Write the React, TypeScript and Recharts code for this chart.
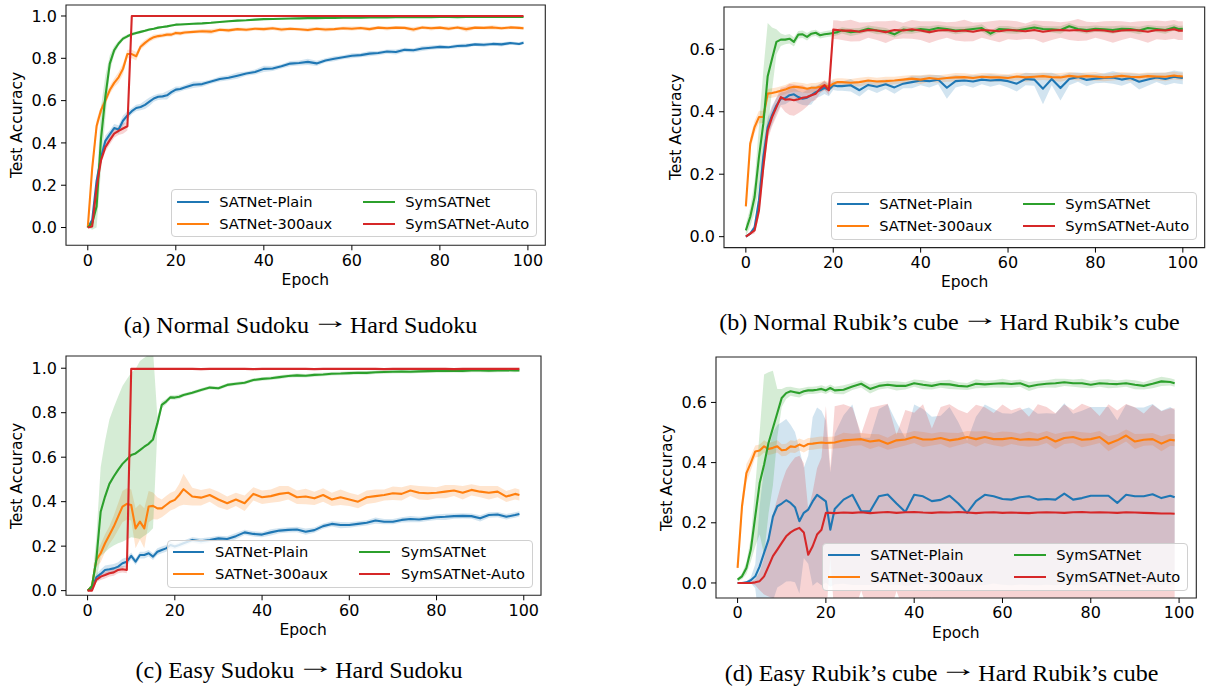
import React from 'react';
import { ComposedChart, Line, Area, XAxis, YAxis, ReferenceArea, Legend } from 'recharts';

// ---------- categories ----------
const SERIES_NAMES = ['SATNet-Plain', 'SATNet-300aux', 'SymSATNet', 'SymSATNet-Auto'];
const SERIES_COLORS = ['#1f77b4', '#ff7f0e', '#2ca02c', '#d62728'];
const X_TICKS = [0, 20, 40, 60, 80, 100];
const Y_TICKS_FULL = [0, 0.2, 0.4, 0.6, 0.8, 1.0];
const Y_TICKS_RUBIK = [0, 0.2, 0.4, 0.6];

const EPOCHS = [
  0, 1, 2, 3, 4, 5, 6, 7, 8, 9, 10, 11, 12, 13, 14, 15, 16, 17, 18, 19, 20, 21,
  22, 24, 26, 28, 30, 32, 34, 36, 38, 40, 42, 44, 46, 48, 50, 52, 54, 56, 58, 60,
  62, 64, 66, 68, 70, 72, 74, 76, 78, 80, 82, 84, 86, 88, 90, 92, 94, 96, 98,
  99,
];
const EPOCHS_B = [...EPOCHS, 100];

// ---------- (a) Normal Sudoku -> Hard Sudoku ----------
const A_PLAIN = [
  0, 0.035, 0.22, 0.33, 0.41, 0.44, 0.47, 0.463, 0.505, 0.53, 0.55, 0.565, 0.57, 0.58, 0.595, 0.61, 0.618, 0.62, 0.625, 0.64, 0.652, 0.655,
  0.662, 0.675, 0.678, 0.69, 0.702, 0.708, 0.718, 0.728, 0.735, 0.75, 0.752, 0.762, 0.775, 0.778, 0.783, 0.776, 0.79, 0.798, 0.805, 0.812,
  0.815, 0.822, 0.825, 0.832, 0.83, 0.84, 0.838, 0.846, 0.85, 0.854, 0.852, 0.858, 0.86, 0.866, 0.864, 0.868, 0.866, 0.872, 0.868,
  0.874,
];
const A_PLAIN_SD = [
  0, 0.01, 0.03, 0.03, 0.025, 0.02, 0.02, 0.02, 0.025, 0.02, 0.015, 0.015, 0.015, 0.02, 0.02, 0.015, 0.015, 0.015, 0.02, 0.015, 0.015, 0.012,
  0.012, 0.015, 0.012, 0.01, 0.012, 0.012, 0.015, 0.01, 0.012, 0.015, 0.012, 0.01, 0.012, 0.012, 0.015, 0.012, 0.01, 0.012, 0.01, 0.012,
  0.01, 0.012, 0.01, 0.01, 0.012, 0.01, 0.01, 0.012, 0.01, 0.01, 0.008, 0.01, 0.01, 0.008, 0.01, 0.008, 0.01, 0.008, 0.008,
  0.008,
];
const A_AUX = [
  0, 0.28, 0.48, 0.555, 0.6, 0.65, 0.684, 0.71, 0.75, 0.82, 0.82, 0.81, 0.855, 0.873, 0.889, 0.9, 0.905, 0.908, 0.912, 0.912, 0.92, 0.918,
  0.922, 0.925, 0.928, 0.926, 0.935, 0.932, 0.938, 0.935, 0.94, 0.938, 0.942, 0.936, 0.94, 0.937, 0.934, 0.94, 0.936, 0.938, 0.942, 0.94,
  0.943, 0.938, 0.945, 0.942, 0.945, 0.944, 0.936, 0.946, 0.942, 0.945, 0.94, 0.946, 0.938, 0.945, 0.944, 0.946, 0.942, 0.946, 0.944,
  0.942,
];
const A_AUX_SD = [
  0, 0.03, 0.03, 0.02, 0.02, 0.02, 0.02, 0.025, 0.025, 0.02, 0.02, 0.02, 0.015, 0.015, 0.012, 0.012, 0.01, 0.01, 0.01, 0.01, 0.01, 0.01,
  0.01, 0.008, 0.01, 0.012, 0.008, 0.01, 0.008, 0.01, 0.008, 0.01, 0.008, 0.01, 0.008, 0.008, 0.01, 0.008, 0.01, 0.008, 0.008, 0.01,
  0.008, 0.01, 0.008, 0.01, 0.008, 0.008, 0.012, 0.008, 0.01, 0.008, 0.01, 0.008, 0.012, 0.008, 0.008, 0.01, 0.008, 0.008, 0.008,
  0.008,
];
const A_SYM = [
  0, 0.02, 0.1, 0.42, 0.62, 0.775, 0.838, 0.87, 0.893, 0.904, 0.914, 0.92, 0.925, 0.93, 0.936, 0.94, 0.945, 0.948, 0.951, 0.955, 0.959, 0.96,
  0.961, 0.963, 0.965, 0.968, 0.972, 0.975, 0.978, 0.98, 0.983, 0.985, 0.986, 0.987, 0.988, 0.989, 0.99, 0.99, 0.991, 0.991, 0.992, 0.992,
  0.992, 0.993, 0.993, 0.993, 0.994, 0.994, 0.994, 0.995, 0.994, 0.995, 0.995, 0.994, 0.995, 0.995, 0.995, 0.996, 0.995, 0.996, 0.995,
  0.995,
];
const A_SYM_SD = [
  0, 0.03, 0.1, 0.15, 0.1, 0.04, 0.02, 0.012, 0.01, 0.008, 0.008, 0.007, 0.006, 0.006, 0.006, 0.005, 0.005, 0.005, 0.005, 0.005, 0.005, 0.005,
  0.005, 0.005, 0.004, 0.005, 0.004, 0.004, 0.005, 0.004, 0.004, 0.004, 0.004, 0.004, 0.003, 0.004, 0.003, 0.004, 0.003, 0.003, 0.003, 0.003,
  0.003, 0.003, 0.003, 0.003, 0.003, 0.003, 0.003, 0.003, 0.003, 0.003, 0.003, 0.003, 0.003, 0.003, 0.003, 0.003, 0.003, 0.003, 0.003,
  0.003,
];
const A_AUTO = [
  0, 0.005, 0.19, 0.318, 0.38, 0.413, 0.444, 0.457, 0.468, 0.479, 1, 1, 1, 1, 1, 1, 1, 1, 1, 1, 1, 1,
  1, 1, 1, 1, 1, 1, 1, 1, 1, 1, 1, 1, 1, 1, 1, 1, 1, 1, 1, 1,
  1, 1, 1, 1, 1, 1, 1, 1, 1, 1, 1, 1, 1, 1, 1, 1, 1, 1, 1,
  1,
];
const A_AUTO_SD = [
  0, 0.005, 0.03, 0.02, 0.02, 0.02, 0.02, 0.02, 0.025, 0.02, 0.001, 0.001, 0.001, 0.001, 0.001, 0.001, 0.001, 0.001, 0.001, 0.001, 0.001, 0.001,
  0.001, 0.001, 0.001, 0.001, 0.001, 0.001, 0.001, 0.001, 0.001, 0.001, 0.001, 0.001, 0.001, 0.001, 0.001, 0.001, 0.001, 0.001, 0.001, 0.001,
  0.001, 0.001, 0.001, 0.001, 0.001, 0.001, 0.001, 0.001, 0.001, 0.001, 0.001, 0.001, 0.001, 0.001, 0.001, 0.001, 0.001, 0.001, 0.001,
  0.001,
];

// ---------- (b) Normal Rubik's cube -> Hard Rubik's cube ----------
const B_PLAIN = [
  0, 0.01, 0.03, 0.116, 0.255, 0.351, 0.389, 0.42, 0.442, 0.444, 0.453, 0.456, 0.447, 0.442, 0.445, 0.453, 0.463, 0.469, 0.477, 0.47, 0.485, 0.482,
  0.482, 0.485, 0.469, 0.486, 0.48, 0.488, 0.478, 0.49, 0.495, 0.5, 0.498, 0.503, 0.477, 0.498, 0.5, 0.497, 0.503, 0.5, 0.502, 0.498,
  0.49, 0.505, 0.503, 0.474, 0.505, 0.476, 0.505, 0.511, 0.502, 0.506, 0.508, 0.51, 0.503, 0.508, 0.496, 0.503, 0.51, 0.505, 0.512,
  0.51, 0.508,
];
const B_PLAIN_SD = [
  0, 0.005, 0.01, 0.03, 0.04, 0.03, 0.03, 0.025, 0.02, 0.02, 0.02, 0.02, 0.02, 0.02, 0.025, 0.03, 0.02, 0.02, 0.02, 0.02, 0.015, 0.015,
  0.015, 0.02, 0.02, 0.015, 0.02, 0.015, 0.02, 0.015, 0.02, 0.015, 0.02, 0.015, 0.035, 0.02, 0.015, 0.02, 0.015, 0.02, 0.015, 0.02,
  0.025, 0.02, 0.02, 0.05, 0.02, 0.04, 0.02, 0.015, 0.02, 0.015, 0.015, 0.02, 0.02, 0.015, 0.025, 0.02, 0.015, 0.02, 0.02,
  0.02, 0.02,
];
const B_AUX = [
  0.097, 0.298, 0.351, 0.383, 0.383, 0.458, 0.46, 0.463, 0.467, 0.471, 0.477, 0.48, 0.479, 0.477, 0.474, 0.477, 0.477, 0.48, 0.485, 0.48, 0.49, 0.495,
  0.495, 0.493, 0.495, 0.5, 0.497, 0.498, 0.5, 0.503, 0.506, 0.503, 0.508, 0.505, 0.508, 0.51, 0.511, 0.508, 0.512, 0.51, 0.51, 0.508,
  0.513, 0.51, 0.512, 0.514, 0.511, 0.51, 0.515, 0.512, 0.514, 0.513, 0.51, 0.512, 0.515, 0.512, 0.511, 0.514, 0.513, 0.512, 0.516,
  0.514, 0.513,
];
const B_AUX_SD = [
  0.01, 0.02, 0.02, 0.02, 0.02, 0.015, 0.015, 0.015, 0.015, 0.015, 0.015, 0.015, 0.015, 0.015, 0.015, 0.015, 0.015, 0.015, 0.015, 0.015, 0.015, 0.012,
  0.012, 0.012, 0.014, 0.012, 0.012, 0.014, 0.012, 0.012, 0.012, 0.014, 0.012, 0.012, 0.012, 0.014, 0.012, 0.012, 0.012, 0.014, 0.012, 0.012,
  0.012, 0.014, 0.012, 0.012, 0.012, 0.014, 0.012, 0.012, 0.012, 0.014, 0.012, 0.012, 0.012, 0.014, 0.012, 0.012, 0.012, 0.014, 0.012,
  0.012, 0.012,
];
const B_SYM = [
  0.02, 0.063, 0.127, 0.255, 0.362, 0.514, 0.57, 0.624, 0.631, 0.631, 0.634, 0.624, 0.647, 0.648, 0.64, 0.65, 0.653, 0.645, 0.648, 0.65, 0.652, 0.655,
  0.661, 0.655, 0.658, 0.666, 0.66, 0.658, 0.648, 0.663, 0.66, 0.665, 0.662, 0.668, 0.665, 0.66, 0.662, 0.665, 0.668, 0.65, 0.665, 0.663,
  0.66, 0.665, 0.67, 0.665, 0.664, 0.662, 0.674, 0.665, 0.662, 0.666, 0.664, 0.662, 0.666, 0.665, 0.66, 0.668, 0.665, 0.662, 0.67,
  0.665, 0.666,
];
const B_SYM_SD = [
  0.02, 0.03, 0.05, 0.1, 0.17, 0.17, 0.1, 0.04, 0.02, 0.015, 0.015, 0.015, 0.012, 0.012, 0.012, 0.01, 0.01, 0.01, 0.01, 0.01, 0.01, 0.01,
  0.01, 0.012, 0.01, 0.01, 0.012, 0.01, 0.01, 0.012, 0.01, 0.01, 0.012, 0.01, 0.01, 0.012, 0.01, 0.01, 0.012, 0.01, 0.01, 0.012,
  0.01, 0.01, 0.012, 0.01, 0.01, 0.012, 0.01, 0.01, 0.012, 0.01, 0.01, 0.012, 0.01, 0.01, 0.012, 0.01, 0.01, 0.012, 0.01,
  0.01, 0.01,
];
const B_AUTO = [
  0, 0.01, 0.02, 0.084, 0.223, 0.34, 0.383, 0.415, 0.447, 0.439, 0.44, 0.437, 0.44, 0.445, 0.447, 0.453, 0.458, 0.474, 0.485, 0.469, 0.663, 0.662,
  0.66, 0.66, 0.656, 0.662, 0.66, 0.655, 0.662, 0.66, 0.664, 0.66, 0.655, 0.66, 0.662, 0.658, 0.66, 0.656, 0.662, 0.66, 0.658, 0.662,
  0.66, 0.658, 0.662, 0.656, 0.66, 0.662, 0.66, 0.662, 0.658, 0.662, 0.66, 0.656, 0.66, 0.662, 0.66, 0.656, 0.662, 0.66, 0.664,
  0.66, 0.66,
];
const B_AUTO_SD = [
  0, 0.005, 0.01, 0.02, 0.03, 0.03, 0.03, 0.03, 0.03, 0.04, 0.05, 0.05, 0.045, 0.04, 0.03, 0.02, 0.02, 0.015, 0.015, 0.015, 0.03, 0.03,
  0.03, 0.035, 0.03, 0.025, 0.03, 0.035, 0.03, 0.025, 0.03, 0.03, 0.035, 0.03, 0.025, 0.03, 0.035, 0.03, 0.025, 0.03, 0.035, 0.03,
  0.03, 0.025, 0.03, 0.035, 0.03, 0.025, 0.03, 0.035, 0.03, 0.025, 0.03, 0.035, 0.03, 0.025, 0.03, 0.035, 0.03, 0.03, 0.03,
  0.03, 0.03,
];

// ---------- (c) Easy Sudoku -> Hard Sudoku ----------
const C_PLAIN = [
  0, 0.01, 0.06, 0.075, 0.093, 0.096, 0.1, 0.108, 0.123, 0.13, 0.156, 0.13, 0.16, 0.16, 0.168, 0.153, 0.175, 0.183, 0.19, 0.205, 0.198, 0.205,
  0.213, 0.228, 0.222, 0.228, 0.235, 0.232, 0.245, 0.262, 0.255, 0.252, 0.262, 0.27, 0.273, 0.275, 0.265, 0.272, 0.29, 0.3, 0.295, 0.295,
  0.3, 0.305, 0.315, 0.31, 0.31, 0.318, 0.322, 0.32, 0.325, 0.33, 0.332, 0.335, 0.336, 0.335, 0.325, 0.34, 0.342, 0.332, 0.34,
  0.345,
];
const C_PLAIN_SD = [
  0, 0.005, 0.015, 0.02, 0.02, 0.02, 0.02, 0.02, 0.02, 0.02, 0.015, 0.015, 0.015, 0.015, 0.015, 0.015, 0.015, 0.015, 0.015, 0.015, 0.012, 0.012,
  0.012, 0.012, 0.014, 0.012, 0.012, 0.012, 0.014, 0.012, 0.012, 0.012, 0.014, 0.012, 0.012, 0.012, 0.014, 0.012, 0.012, 0.012, 0.014, 0.012,
  0.012, 0.012, 0.014, 0.012, 0.012, 0.012, 0.014, 0.012, 0.012, 0.012, 0.014, 0.012, 0.012, 0.012, 0.014, 0.012, 0.012, 0.012, 0.012,
  0.012,
];
const C_AUX = [
  0, 0.02, 0.138, 0.168, 0.213, 0.25, 0.288, 0.333, 0.378, 0.39, 0.385, 0.28, 0.31, 0.28, 0.378, 0.381, 0.37, 0.37, 0.385, 0.4, 0.408, 0.43,
  0.456, 0.423, 0.418, 0.43, 0.41, 0.393, 0.41, 0.393, 0.435, 0.42, 0.425, 0.435, 0.44, 0.42, 0.423, 0.415, 0.43, 0.41, 0.42, 0.41,
  0.4, 0.42, 0.425, 0.43, 0.438, 0.435, 0.45, 0.44, 0.438, 0.44, 0.445, 0.45, 0.44, 0.453, 0.445, 0.44, 0.445, 0.423, 0.435,
  0.43,
];
const C_AUX_SD = [
  0, 0.01, 0.03, 0.04, 0.04, 0.04, 0.05, 0.06, 0.07, 0.07, 0.07, 0.09, 0.08, 0.09, 0.07, 0.06, 0.05, 0.04, 0.04, 0.04, 0.04, 0.05,
  0.07, 0.04, 0.035, 0.03, 0.035, 0.03, 0.03, 0.035, 0.03, 0.03, 0.03, 0.035, 0.03, 0.03, 0.035, 0.03, 0.03, 0.03, 0.035, 0.03,
  0.03, 0.03, 0.03, 0.025, 0.03, 0.03, 0.025, 0.03, 0.03, 0.025, 0.03, 0.025, 0.03, 0.025, 0.025, 0.03, 0.025, 0.025, 0.025,
  0.025,
];
const C_SYM = [
  0, 0.02, 0.138, 0.355, 0.423, 0.48, 0.513, 0.543, 0.57, 0.59, 0.61, 0.617, 0.632, 0.647, 0.66, 0.68, 0.752, 0.835, 0.85, 0.869, 0.868, 0.872,
  0.88, 0.89, 0.902, 0.913, 0.91, 0.925, 0.93, 0.935, 0.947, 0.952, 0.955, 0.96, 0.965, 0.968, 0.966, 0.97, 0.972, 0.975, 0.976, 0.978,
  0.98, 0.979, 0.982, 0.983, 0.984, 0.985, 0.984, 0.986, 0.987, 0.988, 0.988, 0.989, 0.988, 0.99, 0.99, 0.989, 0.99, 0.991, 0.99,
  0.99,
];
const C_SYM_SD = [
  0, 0.02, 0.1, 0.2, 0.25, 0.29, 0.31, 0.33, 0.35, 0.36, 0.37, 0.38, 0.4, 0.4, 0.4, 0.4, 0.03, 0.015, 0.012, 0.01, 0.01, 0.01,
  0.008, 0.008, 0.008, 0.008, 0.008, 0.008, 0.008, 0.008, 0.008, 0.008, 0.008, 0.008, 0.008, 0.008, 0.008, 0.008, 0.008, 0.008, 0.008, 0.008,
  0.008, 0.008, 0.008, 0.008, 0.008, 0.008, 0.008, 0.008, 0.008, 0.008, 0.008, 0.008, 0.008, 0.008, 0.008, 0.008, 0.008, 0.008, 0.008,
  0.006,
];
const C_AUTO = [
  0, 0, 0.048, 0.063, 0.07, 0.078, 0.082, 0.093, 0.096, 0.093, 0.997, 0.997, 0.997, 0.997, 0.997, 0.997, 0.997, 0.997, 0.997, 0.997, 0.997, 0.997,
  0.997, 0.997, 0.996, 0.997, 0.997, 0.998, 0.997, 0.997, 0.996, 0.997, 0.997, 0.997, 0.998, 0.997, 0.997, 0.996, 0.997, 0.997, 0.997, 0.998,
  0.997, 0.997, 0.997, 0.996, 0.997, 0.997, 0.998, 0.997, 0.997, 0.997, 0.997, 0.996, 0.997, 0.997, 0.998, 0.997, 0.997, 0.997, 0.998,
  0.997,
];
const C_AUTO_SD = [
  0, 0.003, 0.01, 0.015, 0.015, 0.015, 0.015, 0.015, 0.015, 0.015, 0.002, 0.002, 0.002, 0.002, 0.002, 0.002, 0.002, 0.002, 0.002, 0.002, 0.002, 0.002,
  0.002, 0.002, 0.002, 0.002, 0.002, 0.002, 0.002, 0.002, 0.002, 0.002, 0.002, 0.002, 0.002, 0.002, 0.002, 0.002, 0.002, 0.002, 0.002, 0.002,
  0.002, 0.002, 0.002, 0.002, 0.002, 0.002, 0.002, 0.002, 0.002, 0.002, 0.002, 0.002, 0.002, 0.002, 0.002, 0.002, 0.002, 0.002, 0.002,
  0.002,
];

// ---------- (d) Easy Rubik's cube -> Hard Rubik's cube ----------
const D_PLAIN = [
  0, 0, 0.002, 0.009, 0.022, 0.055, 0.1, 0.144, 0.22, 0.255, 0.264, 0.275, 0.266, 0.252, 0.205, 0.233, 0.244, 0.271, 0.293, 0.282, 0.271, 0.177,
  0.246, 0.277, 0.293, 0.238, 0.238, 0.288, 0.294, 0.264, 0.236, 0.293, 0.288, 0.272, 0.276, 0.29, 0.264, 0.233, 0.272, 0.293, 0.288, 0.279,
  0.277, 0.285, 0.288, 0.277, 0.279, 0.277, 0.297, 0.277, 0.282, 0.29, 0.29, 0.29, 0.266, 0.293, 0.288, 0.288, 0.295, 0.282, 0.29,
  0.285,
];
const D_PLAIN_SD = [
  0.002, 0.002, 0.003, 0.01, 0.04, 0.2, 0.28, 0.3, 0.28, 0.27, 0.27, 0.27, 0.26, 0.25, 0.24, 0.15, 0.18, 0.28, 0.29, 0.29, 0.27, 0.19,
  0.25, 0.28, 0.3, 0.245, 0.245, 0.29, 0.3, 0.27, 0.245, 0.3, 0.29, 0.28, 0.28, 0.295, 0.27, 0.24, 0.28, 0.3, 0.29, 0.285,
  0.285, 0.29, 0.295, 0.285, 0.285, 0.285, 0.3, 0.285, 0.29, 0.295, 0.295, 0.295, 0.275, 0.3, 0.295, 0.295, 0.3, 0.29, 0.295,
  0.29,
];
const D_AUX = [
  0.05, 0.255, 0.365, 0.399, 0.437, 0.44, 0.454, 0.445, 0.449, 0.454, 0.441, 0.443, 0.454, 0.452, 0.46, 0.454, 0.462, 0.463, 0.465, 0.467, 0.465, 0.466,
  0.467, 0.474, 0.476, 0.478, 0.47, 0.474, 0.463, 0.474, 0.477, 0.485, 0.477, 0.477, 0.482, 0.474, 0.478, 0.485, 0.478, 0.485, 0.478, 0.478,
  0.482, 0.476, 0.478, 0.476, 0.485, 0.47, 0.482, 0.485, 0.476, 0.478, 0.485, 0.463, 0.474, 0.49, 0.47, 0.476, 0.478, 0.463, 0.476,
  0.474,
];
const D_AUX_SD = [
  0.01, 0.03, 0.03, 0.025, 0.02, 0.02, 0.02, 0.02, 0.02, 0.02, 0.02, 0.02, 0.02, 0.02, 0.02, 0.02, 0.02, 0.02, 0.02, 0.02, 0.02, 0.02,
  0.02, 0.025, 0.02, 0.02, 0.025, 0.02, 0.02, 0.025, 0.02, 0.02, 0.025, 0.02, 0.02, 0.025, 0.02, 0.02, 0.025, 0.02, 0.02, 0.025,
  0.02, 0.02, 0.025, 0.02, 0.02, 0.025, 0.02, 0.02, 0.025, 0.02, 0.02, 0.025, 0.02, 0.02, 0.025, 0.02, 0.02, 0.025, 0.02,
  0.02,
];
const D_SYM = [
  0.011, 0.022, 0.05, 0.111, 0.221, 0.332, 0.393, 0.465, 0.515, 0.565, 0.615, 0.631, 0.637, 0.634, 0.631, 0.637, 0.64, 0.64, 0.642, 0.645, 0.64, 0.648,
  0.64, 0.642, 0.653, 0.662, 0.645, 0.655, 0.659, 0.655, 0.655, 0.664, 0.659, 0.655, 0.661, 0.66, 0.655, 0.653, 0.662, 0.66, 0.662, 0.664,
  0.661, 0.664, 0.653, 0.659, 0.662, 0.664, 0.667, 0.664, 0.664, 0.659, 0.664, 0.662, 0.661, 0.664, 0.659, 0.655, 0.662, 0.67, 0.668,
  0.664,
];
const D_SYM_SD = [
  0.005, 0.01, 0.02, 0.04, 0.1, 0.17, 0.3, 0.235, 0.19, 0.08, 0.03, 0.02, 0.015, 0.015, 0.015, 0.012, 0.012, 0.012, 0.012, 0.012, 0.012, 0.012,
  0.012, 0.015, 0.012, 0.012, 0.015, 0.012, 0.012, 0.015, 0.012, 0.012, 0.015, 0.012, 0.012, 0.015, 0.012, 0.012, 0.015, 0.012, 0.012, 0.015,
  0.012, 0.012, 0.015, 0.012, 0.012, 0.015, 0.012, 0.012, 0.015, 0.012, 0.012, 0.015, 0.012, 0.012, 0.015, 0.012, 0.015, 0.015, 0.012,
  0.012,
];
const D_AUTO = [
  0, 0, 0, 0, 0.002, 0.006, 0.022, 0.055, 0.089, 0.111, 0.133, 0.155, 0.168, 0.177, 0.183, 0.168, 0.094, 0.122, 0.161, 0.177, 0.233, 0.233,
  0.232, 0.234, 0.233, 0.235, 0.232, 0.234, 0.236, 0.233, 0.235, 0.236, 0.234, 0.233, 0.235, 0.234, 0.236, 0.234, 0.232, 0.234, 0.235, 0.233,
  0.234, 0.233, 0.232, 0.234, 0.235, 0.234, 0.233, 0.235, 0.236, 0.234, 0.235, 0.234, 0.233, 0.235, 0.234, 0.233, 0.232, 0.231, 0.231,
  0.23,
];
const D_AUTO_SD = [
  0, 0, 0, 0.002, 0.01, 0.03, 0.06, 0.1, 0.14, 0.17, 0.2, 0.22, 0.23, 0.24, 0.24, 0.23, 0.15, 0.18, 0.22, 0.24, 0.355, 0.15,
  0.355, 0.36, 0.35, 0.26, 0.35, 0.355, 0.36, 0.26, 0.34, 0.33, 0.36, 0.28, 0.35, 0.36, 0.34, 0.33, 0.36, 0.35, 0.33, 0.36,
  0.34, 0.35, 0.32, 0.36, 0.35, 0.33, 0.36, 0.34, 0.36, 0.35, 0.32, 0.36, 0.34, 0.36, 0.35, 0.33, 0.36, 0.34, 0.35,
  0.35,
];

// ---------- layout ----------
type Rect = { x: number; y: number; w: number; h: number };
type PanelDef = {
  key: string;
  captionParts: [string, string];
  captionX: number;
  captionY: number;
  epochs: number[];
  values: number[][];
  sds: number[][];
  plot: Rect;
  xDomain: [number, number];
  yDomain: [number, number];
  yTicks: number[];
};

const PANELS: PanelDef[] = [
  {
    key: 'a',
    captionParts: ['(a) Normal Sudoku', 'Hard Sudoku'],
    captionX: 300.5, captionY: 325,
    epochs: EPOCHS,
    values: [A_PLAIN, A_AUX, A_SYM, A_AUTO],
    sds: [A_PLAIN_SD, A_AUX_SD, A_SYM_SD, A_AUTO_SD],
    plot: { x: 65.7, y: 4.7, w: 479.3, h: 240.3 },
    xDomain: [-4.95, 103.95],
    yDomain: [-0.084, 1.052],
    yTicks: Y_TICKS_FULL,
  },
  {
    key: 'b',
    captionParts: ['(b) Normal Rubik\u2019s cube', 'Hard Rubik\u2019s cube'],
    captionX: 949.5, captionY: 322,
    epochs: EPOCHS_B,
    values: [B_PLAIN, B_AUX, B_SYM, B_AUTO],
    sds: [B_PLAIN_SD, B_AUX_SD, B_SYM_SD, B_AUTO_SD],
    plot: { x: 724.3, y: 6.7, w: 480.7, h: 240.6 },
    xDomain: [-5, 105],
    yDomain: [-0.035, 0.7355],
    yTicks: Y_TICKS_RUBIK,
  },
  {
    key: 'c',
    captionParts: ['(c) Easy Sudoku', 'Hard Sudoku'],
    captionX: 299, captionY: 670,
    epochs: EPOCHS,
    values: [C_PLAIN, C_AUX, C_SYM, C_AUTO],
    sds: [C_PLAIN_SD, C_AUX_SD, C_SYM_SD, C_AUTO_SD],
    plot: { x: 65.7, y: 356, w: 475, h: 239.3 },
    xDomain: [-4.95, 103.95],
    yDomain: [-0.021, 1.055],
    yTicks: Y_TICKS_FULL,
  },
  {
    key: 'd',
    captionParts: ['(d) Easy Rubik\u2019s cube', 'Hard Rubik\u2019s cube'],
    captionX: 941.5, captionY: 673,
    epochs: EPOCHS,
    values: [D_PLAIN, D_AUX, D_SYM, D_AUTO],
    sds: [D_PLAIN_SD, D_AUX_SD, D_SYM_SD, D_AUTO_SD],
    plot: { x: 715.7, y: 357.3, w: 480.3, h: 241 },
    xDomain: [-4.89, 103.9],
    yDomain: [-0.05, 0.751],
    yTicks: Y_TICKS_RUBIK,
  },
];

const PAD_L = 70;
const PAD_T = 8;
const PAD_R = 12;
const PAD_B = 60;
const Y_AXIS_W = 60;
const X_AXIS_H = 30;
const LEGEND_W = 366;
const LEGEND_H = 48;
const SANS = '"DejaVu Sans", Verdana, sans-serif';
const SERIF = '"Liberation Serif", "Times New Roman", serif';

function buildRows(def: PanelDef) {
  return def.epochs.map((e, i) => {
    const row: Record<string, any> = { epoch: e };
    def.values.forEach((arr, k) => {
      const v = arr[i];
      const s = def.sds[k][i];
      row['v' + k] = v;
      row['band' + k] = [v - s, v + s];
    });
    return row;
  });
}

function LegendBox() {
  const rowY = [12.6, 34.8];
  const cols = [5.7, 191.7];
  return (
    <div
      style={{
        position: 'relative',
        width: LEGEND_W,
        height: LEGEND_H,
        boxSizing: 'border-box',
        border: '1px solid #d0d0d0',
        borderRadius: 4,
        background: 'rgba(255,255,255,0.8)',
        fontFamily: SANS,
        fontSize: 14.6,
        color: '#000',
      }}
    >
      {SERIES_NAMES.map((name, i) => {
        const col = Math.floor(i / 2);
        const row = i % 2;
        return (
          <div key={name}>
            <div
              style={{
                position: 'absolute',
                left: cols[col] - 1,
                top: rowY[row] - 2,
                width: 31.6,
                height: 2.1,
                background: SERIES_COLORS[i],
              }}
            />
            <div
              style={{
                position: 'absolute',
                left: cols[col] + 42.3 - 1,
                top: rowY[row] - 10,
                lineHeight: '18px',
                whiteSpace: 'nowrap',
              }}
            >
              {name}
            </div>
          </div>
        );
      })}
    </div>
  );
}

function Panel({ def }: { def: PanelDef }) {
  const rows = buildRows(def);
  const { plot } = def;
  const width = plot.w + PAD_L + PAD_R;
  const height = plot.h + PAD_T + PAD_B;
  const tickStyle = { fontSize: 16, fill: '#000', fontFamily: SANS };
  return (
    <div style={{ position: 'absolute', left: plot.x - PAD_L, top: plot.y - PAD_T, width, height }}>
      <ComposedChart
        width={width}
        height={height}
        data={rows}
        margin={{ top: PAD_T, left: PAD_L - Y_AXIS_W, right: PAD_R, bottom: PAD_B - X_AXIS_H }}
      >
        <XAxis
          dataKey="epoch"
          type="number"
          domain={def.xDomain}
          ticks={X_TICKS}
          interval={0}
          allowDataOverflow
          axisLine={false}
          tickLine={{ stroke: '#000', strokeWidth: 1 }}
          tickSize={5}
          tickMargin={4}
          tick={tickStyle}
          height={X_AXIS_H}
        />
        <YAxis
          type="number"
          domain={def.yDomain}
          ticks={def.yTicks}
          interval={0}
          allowDataOverflow
          axisLine={false}
          tickLine={{ stroke: '#000', strokeWidth: 1 }}
          tickSize={5}
          tickMargin={4}
          tick={tickStyle}
          width={Y_AXIS_W}
          tickFormatter={(v: number) => v.toFixed(1)}
        />
        {def.values.map((_, k) => (
          <Area
            key={'band' + k}
            type="linear"
            dataKey={'band' + k}
            stroke="none"
            fill={SERIES_COLORS[k]}
            fillOpacity={0.2}
            dot={false}
            activeDot={false}
            isAnimationActive={false}
            legendType="none"
          />
        ))}
        {def.values.map((_, k) => (
          <Line
            key={'line' + k}
            type="linear"
            dataKey={'v' + k}
            name={SERIES_NAMES[k]}
            stroke={SERIES_COLORS[k]}
            strokeWidth={2.1}
            strokeLinejoin="round"
            dot={false}
            activeDot={false}
            isAnimationActive={false}
          />
        ))}
        <ReferenceArea
          x1={def.xDomain[0]}
          x2={def.xDomain[1]}
          y1={def.yDomain[0]}
          y2={def.yDomain[1]}
          fill="none"
          fillOpacity={0}
          stroke="#222"
          strokeWidth={1.1}
          ifOverflow="visible"
        />
        <Legend
          layout="horizontal"
          verticalAlign="middle"
          align="center"
          content={() => <LegendBox />}
          wrapperStyle={{
            left: PAD_L + plot.w - 7.7 - LEGEND_W,
            top: PAD_T + plot.h - 7.7 - LEGEND_H,
            width: LEGEND_W,
            height: LEGEND_H,
          }}
        />
      </ComposedChart>
    </div>
  );
}

function CenterText({ x, y, children, font, size, rotate }: { x: number; y: number; children: React.ReactNode; font: string; size: number; rotate?: boolean }) {
  return (
    <div
      style={{
        position: 'absolute',
        left: x,
        top: y,
        transform: `translate(-50%, -50%)${rotate ? ' rotate(-90deg)' : ''}`,
        fontFamily: font,
        fontSize: size,
        whiteSpace: 'nowrap',
        lineHeight: 1,
        color: '#000',
      }}
    >
      {children}
    </div>
  );
}

export default function App() {
  return (
    <div style={{ position: 'absolute', left: 0, top: 0, width: 1207, height: 687, background: '#fff', overflow: 'hidden' }}>
      {PANELS.map((def) => (
        <React.Fragment key={def.key}>
          <Panel def={def} />
          <CenterText x={def.plot.x - 47.5} y={def.plot.y + def.plot.h / 2} font={SANS} size={15.5} rotate>
            Test Accuracy
          </CenterText>
          <CenterText x={def.plot.x + def.plot.w / 2} y={def.plot.y + def.plot.h + 36} font={SANS} size={15.5}>
            Epoch
          </CenterText>
          <CenterText x={def.captionX} y={def.captionY} font={SERIF} size={24}>
            {def.captionParts[0]}
            <span
              style={{
                display: 'inline-block',
                fontFamily: SERIF,
                transform: 'translateY(-5px) scaleX(1.6)',
                margin: '0 8px 0 9px',
              }}
            >
              {'\u2192'}
            </span>
            {def.captionParts[1]}
          </CenterText>
        </React.Fragment>
      ))}
    </div>
  );
}
